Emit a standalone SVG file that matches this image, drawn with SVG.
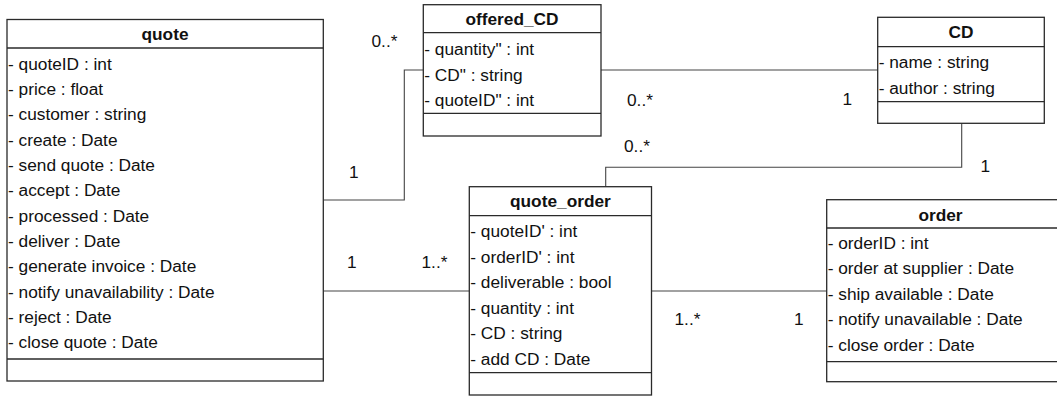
<svg xmlns="http://www.w3.org/2000/svg" width="1057" height="397" viewBox="0 0 1057 397">
  <style>
    .box { fill: #ffffff; stroke: #2a2a2a; stroke-width: 1.3; }
    .sep { stroke: #2a2a2a; stroke-width: 1.3; }
    .conn { fill: none; stroke: #444444; stroke-width: 1.1; }
    text { font-family: "Liberation Sans", Arial, sans-serif; font-size: 17.3px; fill: #111111; }
    .title { font-weight: bold; text-anchor: middle; }
  </style>
  <rect width="1057" height="397" fill="#ffffff"/>

  <!-- associations -->
  <g id="connectors">
    <polyline class="conn" points="323.3,200 404.3,200 404.3,70 423.3,70"/>
    <line class="conn" x1="601" y1="70" x2="877.7" y2="70"/>
    <polyline class="conn" points="605.7,186.7 605.7,167.3 961.7,167.3 961.7,123.3"/>
    <line class="conn" x1="323.3" y1="291" x2="469.3" y2="291"/>
    <line class="conn" x1="651.5" y1="291" x2="826.7" y2="291"/>

    <text x="371.5" y="46.7">0..*</text>
    <text x="349" y="178.3">1</text>
    <text x="627" y="105.7">0..*</text>
    <text x="842.5" y="105">1</text>
    <text x="624" y="151.7">0..*</text>
    <text x="980.5" y="171.7">1</text>
    <text x="347" y="268.3">1</text>
    <text x="421.5" y="268.3">1..*</text>
    <text x="674.5" y="325">1..*</text>
    <text x="794" y="325">1</text>
  </g>

  <g id="quote">
    <rect class="box" x="7" y="19.5" width="316.3" height="361.5"/>
    <line class="sep" x1="7" y1="48" x2="323.3" y2="48"/>
    <line class="sep" x1="7" y1="359" x2="323.3" y2="359"/>
    <text class="title" x="165" y="39.5">quote</text>
    <text x="8" y="69.5">- quoteID : int</text>
    <text x="8" y="94.8">- price : float</text>
    <text x="8" y="120.2">- customer : string</text>
    <text x="8" y="145.5">- create : Date</text>
    <text x="8" y="170.9">- send quote : Date</text>
    <text x="8" y="196.2">- accept : Date</text>
    <text x="8" y="221.6">- processed : Date</text>
    <text x="8" y="246.9">- deliver : Date</text>
    <text x="8" y="272.3">- generate invoice : Date</text>
    <text x="8" y="297.6">- notify unavailability : Date</text>
    <text x="8" y="323">- reject : Date</text>
    <text x="8" y="348.3">- close quote : Date</text>
  </g>

  <g id="offered_CD">
    <rect class="box" x="423.3" y="4.7" width="177.7" height="131.3"/>
    <line class="sep" x1="423.3" y1="32.7" x2="601" y2="32.7"/>
    <line class="sep" x1="423.3" y1="113.3" x2="601" y2="113.3"/>
    <text class="title" x="512" y="25">offered_CD</text>
    <text x="424.3" y="55">- quantity" : int</text>
    <text x="424.3" y="80.5">- CD" : string</text>
    <text x="424.3" y="106">- quoteID" : int</text>
  </g>

  <g id="CD">
    <rect class="box" x="877.7" y="17.3" width="166.6" height="106"/>
    <line class="sep" x1="877.7" y1="46.7" x2="1044.3" y2="46.7"/>
    <line class="sep" x1="877.7" y1="101.7" x2="1044.3" y2="101.7"/>
    <text class="title" x="961" y="38.3">CD</text>
    <text x="878.7" y="68">- name : string</text>
    <text x="878.7" y="93.7">- author : string</text>
  </g>

  <g id="quote_order">
    <rect class="box" x="469.3" y="186.7" width="182.2" height="208.3"/>
    <line class="sep" x1="469.3" y1="215.7" x2="651.5" y2="215.7"/>
    <line class="sep" x1="469.3" y1="372.7" x2="651.5" y2="372.7"/>
    <text class="title" x="560.4" y="207.3">quote_order</text>
    <text x="470.3" y="236.9">- quoteID' : int</text>
    <text x="470.3" y="262.5">- orderID' : int</text>
    <text x="470.3" y="288.1">- deliverable : bool</text>
    <text x="470.3" y="313.7">- quantity : int</text>
    <text x="470.3" y="339.3">- CD : string</text>
    <text x="470.3" y="364.9">- add CD : Date</text>
  </g>

  <g id="order">
    <rect class="box" x="826.7" y="199.7" width="232" height="182"/>
    <line class="sep" x1="826.7" y1="228" x2="1058.7" y2="228"/>
    <line class="sep" x1="826.7" y1="361.7" x2="1058.7" y2="361.7"/>
    <text class="title" x="940.5" y="220.5">order</text>
    <text x="827.7" y="248.5">- orderID : int</text>
    <text x="827.7" y="274">- order at supplier : Date</text>
    <text x="827.7" y="299.5">- ship available : Date</text>
    <text x="827.7" y="325">- notify unavailable : Date</text>
    <text x="827.7" y="350.5">- close order : Date</text>
  </g>
</svg>
